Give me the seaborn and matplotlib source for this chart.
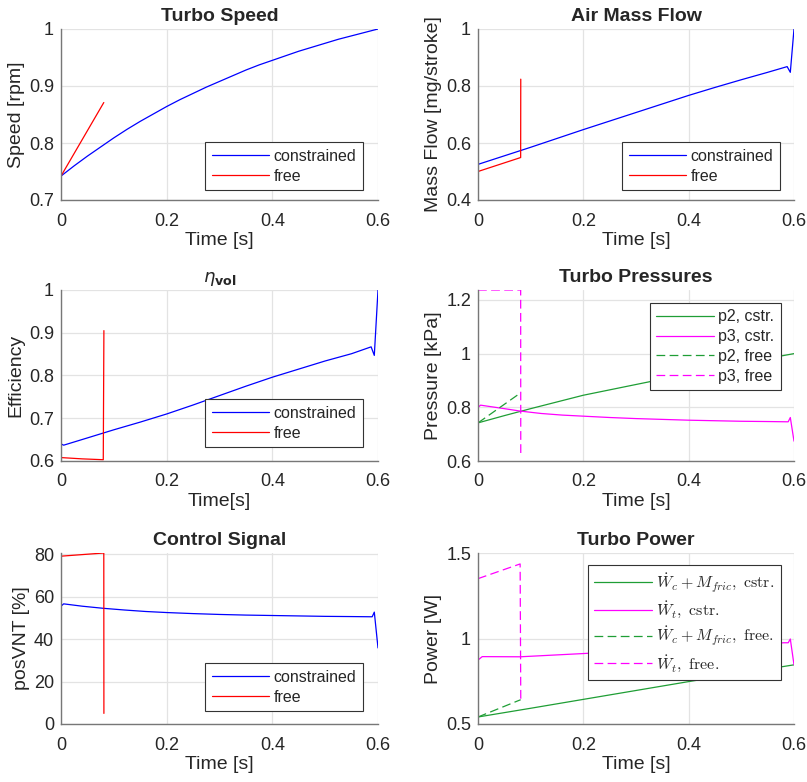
import numpy as np
import pandas as pd
import matplotlib
matplotlib.use("Agg")
import matplotlib.pyplot as plt
import seaborn as sns

# ---- data -----------------------------------------------------------------
# Turbo speed (normalised)
speed_t_cstr = [0.0, 0.025, 0.05, 0.075, 0.1, 0.125, 0.15, 0.175, 0.2, 0.225,
                0.25, 0.275, 0.3, 0.325, 0.35, 0.375, 0.4, 0.425, 0.45, 0.475,
                0.5, 0.525, 0.55, 0.575, 0.6]
speed_cstr = [0.742, 0.760, 0.777, 0.793, 0.809, 0.824, 0.838, 0.851, 0.864, 0.876,
              0.887, 0.898, 0.908, 0.918, 0.928, 0.937, 0.945, 0.953, 0.961, 0.968,
              0.975, 0.982, 0.988, 0.994, 1.0]
speed_t_free = [0.0, 0.081]
speed_free = [0.742, 0.871]

# Air mass flow
maf_t_cstr = [0.0, 0.05, 0.1, 0.15, 0.2, 0.25, 0.3, 0.35, 0.4, 0.45, 0.5, 0.55,
              0.587, 0.593, 0.6]
maf_cstr = [0.525, 0.555, 0.585, 0.616, 0.647, 0.677, 0.707, 0.737, 0.767, 0.795,
            0.822, 0.848, 0.868, 0.848, 1.0]
maf_t_free = [0.0, 0.081, 0.0812]
maf_free = [0.500, 0.549, 0.824]

# Volumetric efficiency
eff_t_cstr = [0.0, 0.005, 0.05, 0.1, 0.15, 0.2, 0.25, 0.3, 0.35, 0.4, 0.45, 0.5,
              0.55, 0.587, 0.593, 0.6]
eff_cstr = [0.640, 0.637, 0.654, 0.673, 0.691, 0.710, 0.731, 0.753, 0.775, 0.796,
            0.815, 0.834, 0.851, 0.867, 0.847, 1.0]
eff_t_free = [0.0, 0.04, 0.080, 0.0812]
eff_free = [0.608, 0.605, 0.603, 0.905]

# Turbo pressures
pr_t_p2_cstr = [0.0, 0.05, 0.1, 0.15, 0.2, 0.25, 0.3, 0.35, 0.4, 0.45, 0.5, 0.55, 0.6]
p2_cstr = [0.742, 0.769, 0.795, 0.820, 0.845, 0.865, 0.885, 0.905, 0.925, 0.944,
           0.963, 0.982, 1.0]
pr_t_p3_cstr = [0.0, 0.005, 0.05, 0.08, 0.12, 0.16, 0.2, 0.25, 0.3, 0.35, 0.4,
                0.45, 0.5, 0.55, 0.589, 0.593, 0.6]
p3_cstr = [0.800, 0.808, 0.795, 0.786, 0.777, 0.771, 0.767, 0.762, 0.758, 0.755,
           0.752, 0.750, 0.748, 0.747, 0.746, 0.762, 0.674]
pr_t_p2_free = [0.0, 0.081]
p2_free = [0.742, 0.854]
pr_t_p3_free = [0.0, 0.081, 0.0812]
p3_free = [1.237, 1.237, 0.619]

# Control signal
vnt_t_cstr = [0.0, 0.005, 0.04, 0.08, 0.12, 0.16, 0.2, 0.25, 0.3, 0.35, 0.4, 0.45,
              0.5, 0.55, 0.589, 0.593, 0.6]
vnt_cstr = [55.6, 56.7, 55.6, 54.6, 53.8, 53.1, 52.6, 52.1, 51.7, 51.4, 51.2, 51.0,
            50.8, 50.7, 50.6, 52.8, 35.9]
vnt_t_free = [0.0, 0.081, 0.0812]
vnt_free = [79.2, 80.7, 5.0]

# Turbo power
pw_t_wc_cstr = [0.0, 0.1, 0.2, 0.3, 0.4, 0.5, 0.6]
wc_cstr = [0.541, 0.592, 0.644, 0.696, 0.748, 0.797, 0.846]
pw_t_wt_cstr = [0.0, 0.008, 0.08, 0.2, 0.3, 0.4, 0.5, 0.58, 0.589, 0.593, 0.6]
wt_cstr = [0.874, 0.894, 0.893, 0.912, 0.928, 0.943, 0.958, 0.975, 0.975, 0.997, 0.846]
pw_t_wc_free = [0.0, 0.081]
wc_free = [0.541, 0.642]
pw_t_wt_free = [0.0, 0.080, 0.0812]
wt_free = [1.350, 1.436, 0.644]

time_ticks = [0, 0.2, 0.4, 0.6]

# ---- style ----------------------------------------------------------------
sns.set_theme(style="white")
plt.rcParams["font.family"] = ["Liberation Sans", "DejaVu Sans"]
plt.rcParams["mathtext.fontset"] = "cm"

BLUE, RED = "#0000ff", "#ff0000"
GREEN, MAGENTA = "#1f9e35", "#ff00ff"
DASH = (0, (7, 3.5))
SPINE = "#777777"
TEXT = "#262626"
LW = 0.9

fig = plt.figure(figsize=(8.07, 7.82), dpi=100)

col_x = [61 / 807, 478 / 807]
col_w = [317 / 807, 316 / 807]
row_top = [29, 290, 553]
ax_h = 171


def make_ax(r, c):
    bottom = 1 - (row_top[r] + ax_h) / 782
    return fig.add_axes([col_x[c], bottom, col_w[c], ax_h / 782])


def line(ax, t, y, color, label, ls="-"):
    df = pd.DataFrame({"t": t, "y": y})
    sns.lineplot(data=df, x="t", y="y", ax=ax, color=color, label=label,
                 linewidth=LW, linestyle=ls, sort=False, estimator=None)


def finish(ax, title, ylabel, ylim, yticks, yticklabels, xlabel="Time [s]",
           legend_anchor=(1, 0), legend_loc="lower right", title_kw=None):
    ax.set_xlim(0, 0.6)
    ax.set_ylim(*ylim)
    ax.set_xticks(time_ticks)
    ax.set_xticklabels(["0", "0.2", "0.4", "0.6"])
    ax.set_yticks(yticks)
    ax.set_yticklabels(yticklabels)
    ax.grid(True, color="#e3e3e3", linewidth=0.9)
    ax.set_axisbelow(True)
    for s in ["top", "right"]:
        ax.spines[s].set_visible(False)
    for s in ["left", "bottom"]:
        ax.spines[s].set_color(SPINE)
        ax.spines[s].set_linewidth(1.0)
    ax.tick_params(axis="both", length=0, labelsize=13, colors=TEXT)
    ax.tick_params(axis="x", pad=9)
    ax.tick_params(axis="y", pad=5)
    ax.set_xlabel(xlabel, fontsize=14, color=TEXT, labelpad=2)
    ax.set_ylabel(ylabel, fontsize=14, color=TEXT, labelpad=3)
    kw = dict(fontsize=14, fontweight="bold", pad=6)
    if title_kw:
        kw.update(title_kw)
    ax.set_title(title, **kw)
    leg = ax.legend(loc=legend_loc, bbox_to_anchor=legend_anchor,
                    borderaxespad=0, fontsize=11.5, handlelength=3.6,
                    handletextpad=0.3, labelspacing=0.3, borderpad=0.4,
                    fancybox=False, framealpha=1, edgecolor="#333333")
    leg.get_frame().set_linewidth(0.8)
    for txt in leg.get_texts():
        txt.set_color(TEXT)


# Turbo Speed
ax = make_ax(0, 0)
line(ax, speed_t_cstr, speed_cstr, BLUE, "constrained")
line(ax, speed_t_free, speed_free, RED, "free")
finish(ax, "Turbo Speed", "Speed [rpm]", (0.7, 1.0), [0.7, 0.8, 0.9, 1.0],
       ["0.7", "0.8", "0.9", "1"], legend_anchor=(302 / 317, 10 / 171))

# Air Mass Flow
ax = make_ax(0, 1)
line(ax, maf_t_cstr, maf_cstr, BLUE, "constrained")
line(ax, maf_t_free, maf_free, RED, "free")
finish(ax, "Air Mass Flow", "Mass Flow [mg/stroke]", (0.4, 1.0),
       [0.4, 0.6, 0.8, 1.0], ["0.4", "0.6", "0.8", "1"],
       legend_anchor=(302 / 316, 10 / 171))

# Volumetric efficiency
ax = make_ax(1, 0)
line(ax, eff_t_cstr, eff_cstr, BLUE, "constrained")
line(ax, eff_t_free, eff_free, RED, "free")
finish(ax, r"$\eta_{\mathbf{vol}}$", "Efficiency", (0.6, 1.0),
       [0.6, 0.7, 0.8, 0.9, 1.0], ["0.6", "0.7", "0.8", "0.9", "1"],
       xlabel="Time[s]", legend_anchor=(302 / 317, 14 / 171),
       title_kw=dict(math_fontfamily="dejavusans", fontsize=13))

# Turbo Pressures
ax = make_ax(1, 1)
line(ax, pr_t_p2_cstr, p2_cstr, GREEN, "p2, cstr.")
line(ax, pr_t_p3_cstr, p3_cstr, MAGENTA, "p3, cstr.")
line(ax, pr_t_p2_free, p2_free, GREEN, "p2, free", ls=DASH)
line(ax, pr_t_p3_free, p3_free, MAGENTA, "p3, free", ls=DASH)
finish(ax, "Turbo Pressures", "Pressure [kPa]", (0.6, max(p3_free)),
       [0.6, 0.8, 1.0, 1.2], ["0.6", "0.8", "1", "1.2"],
       legend_loc="upper right", legend_anchor=(303 / 316, 1 - 13 / 171))

# Control Signal
ax = make_ax(2, 0)
line(ax, vnt_t_cstr, vnt_cstr, BLUE, "constrained")
line(ax, vnt_t_free, vnt_free, RED, "free")
finish(ax, "Control Signal", "posVNT [%]", (0, max(vnt_free)),
       [0, 20, 40, 60, 80], ["0", "20", "40", "60", "80"],
       legend_anchor=(302 / 317, 13 / 171))

# Turbo Power
ax = make_ax(2, 1)
line(ax, pw_t_wc_cstr, wc_cstr, GREEN, r"$\dot{W}_c + M_{fric}\mathrm{,\ cstr.}$")
line(ax, pw_t_wt_cstr, wt_cstr, MAGENTA, r"$\dot{W}_t\mathrm{,\ cstr.}$")
line(ax, pw_t_wc_free, wc_free, GREEN, r"$\dot{W}_c + M_{fric}\mathrm{,\ free.}$", ls=DASH)
line(ax, pw_t_wt_free, wt_free, MAGENTA, r"$\dot{W}_t\mathrm{,\ free.}$", ls=DASH)
finish(ax, "Turbo Power", "Power [W]", (0.5, 1.5), [0.5, 1.0, 1.5],
       ["0.5", "1", "1.5"], legend_loc="upper right",
       legend_anchor=(303 / 316, 1 - 12 / 171))

fig.savefig("out.png", dpi=100)
